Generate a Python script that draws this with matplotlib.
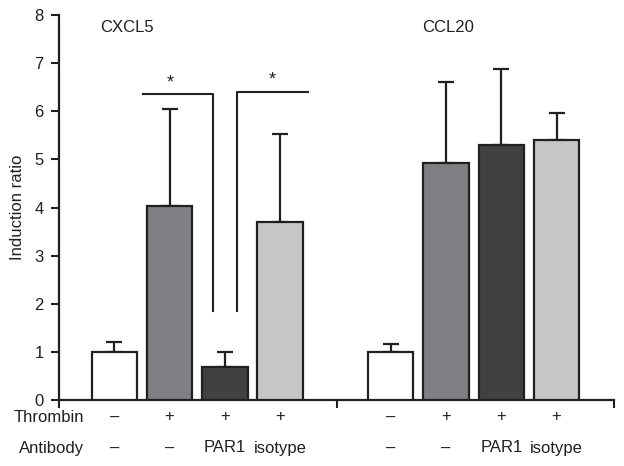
import matplotlib
matplotlib.use('Agg')
import matplotlib.pyplot as plt
import matplotlib.transforms as mtrans

plt.rcParams['font.family'] = ['Liberation Sans', 'DejaVu Sans']

# data
positions = [0, 1, 2, 3, 5, 6, 7, 8]
values = [1.0, 4.03, 0.69, 3.69, 1.0, 4.92, 5.29, 5.41]
errors = [0.2, 2.02, 0.31, 1.83, 0.16, 1.68, 1.59, 0.55]
colors = ['#ffffff', '#808084', '#414143', '#c5c6c8'] * 2
thrombin = ['–', '+', '+', '+', '–', '+', '+', '+']
antibody = ['–', '–', 'PAR1', 'isotype', '–', '–', 'PAR1', 'isotype']
gene_names = ['CXCL5', 'CCL20']
gene_x = [0.23, 6.04]
ink = '#231f20'

fig = plt.figure(figsize=(6.24, 4.66), dpi=100)
ax = fig.add_axes([0.0946, 0.1416, 0.8894, 0.8262])

ax.bar(positions, values, width=0.82, color=colors, edgecolor=ink, linewidth=1.6, zorder=3)
ax.errorbar(positions, values, yerr=[[0] * len(errors), errors], fmt='none',
            ecolor=ink, elinewidth=1.6, capsize=5.5, capthick=1.6, zorder=2)

# significance brackets
ax.plot([0.52, 1.78, 1.78], [6.35, 6.35, 1.85], color=ink, lw=1.5)
ax.plot([2.22, 2.22, 3.5], [1.85, 6.4, 6.4], color=ink, lw=1.5)
ax.text(1.02, 6.42, '*', ha='center', va='bottom', fontsize=13, color=ink)
ax.text(2.86, 6.47, '*', ha='center', va='bottom', fontsize=13, color=ink)

for name, gx in zip(gene_names, gene_x):
    ax.text(gx, 7.74, name, ha='center', va='center', fontsize=12, color=ink)

ax.set_xlim(-1, 9.04)
ax.set_ylim(0, 8)
ax.set_yticks(range(9))
ax.set_xticks([-1, 4.02, 9.04])
ax.set_xticklabels([])
ax.tick_params(axis='both', direction='out', length=6, width=1.5, colors=ink,
               labelsize=12, labelcolor=ink, pad=5)
for s in ['top', 'right']:
    ax.spines[s].set_visible(False)
for s in ['left', 'bottom']:
    ax.spines[s].set_linewidth(1.6)
    ax.spines[s].set_color(ink)
ax.set_ylabel('Induction ratio', fontsize=12, color=ink, labelpad=7)

# condition rows below axis
trans = mtrans.blended_transform_factory(ax.transData, fig.transFigure)
row_y = [1 - 417 / 466, 1 - 448 / 466]
ax.text(-0.54, row_y[0], 'Thrombin', transform=trans, ha='right', va='center', fontsize=12, color=ink)
ax.text(-0.54, row_y[1], 'Antibody', transform=trans, ha='right', va='center', fontsize=12, color=ink)
for p, t, a in zip(positions, thrombin, antibody):
    ax.text(p, row_y[0], t, transform=trans, ha='center', va='center', fontsize=12, color=ink)
    ax.text(p, row_y[1], a, transform=trans, ha='center', va='center', fontsize=12, color=ink)

fig.savefig('out.png', dpi=100)
